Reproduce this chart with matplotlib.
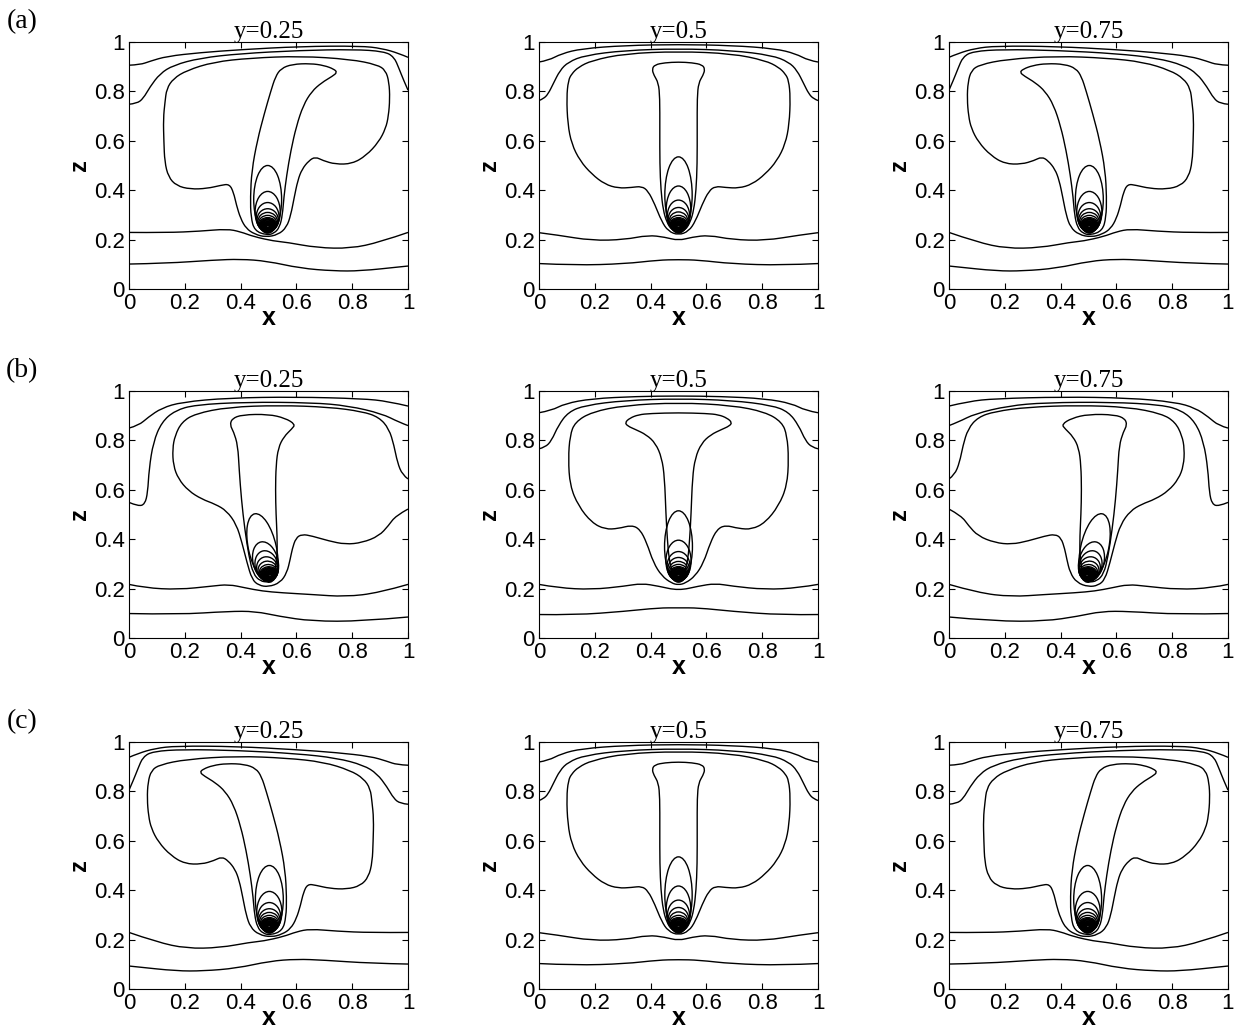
import math

import matplotlib.pyplot as plt
from matplotlib.patches import Ellipse, PathPatch
from matplotlib.path import Path

plt.rcParams["font.family"] = ["Liberation Sans", "DejaVu Sans"]

# contour lines, as (x, z) pairs
# (a)/(c) side slice, plume leaning right (a: y=0.25, c: y=0.75)
a_side_top1 = [(0, .906), (.04, .908), (.075, .922), (.135, .942), (.255, .957), (.40, .969),
               (.614, .982), (.83, .984), (.907, .974), (.967, .954), (1, .938)]
a_side_top2 = [(0, .748), (.028, .751), (.051, .771), (.075, .818), (.111, .872), (.159, .906),
               (.255, .935), (.399, .953), (.614, .966), (.806, .970), (.914, .962), (.95, .94),
               (.968, .892), (.984, .846), (1, .805)]
a_side_cap = [(.135, .811), (.159, .852), (.207, .885), (.303, .919), (.435, .935), (.614, .943),
              (.794, .930), (.89, .908), (.92, .885), (.932, .838), (.935, .771), (.93, .70),
              (.92, .65), (.895, .595), (.85, .54), (.80, .507), (.74, .505), (.695, .52),
              (.668, .535), (.645, .52), (.62, .485), (.605, .44), (.592, .37), (.58, .30),
              (.565, .25), (.535, .22), (.49, .21), (.45, .222), (.42, .245), (.40, .285),
              (.385, .34), (.375, .39), (.36, .425), (.33, .42), (.28, .407), (.22, .404),
              (.17, .418), (.141, .454), (.128, .515), (.125, .596), (.123, .69), (.129, .757),
              (.135, .811)]
a_side_stem = [(.493, .218), (.45, .236), (.437, .29), (.435, .371), (.44, .48), (.46, .602),
               (.485, .71), (.508, .80), (.525, .86), (.545, .893), (.585, .91), (.65, .913),
               (.70, .905), (.735, .89), (.746, .877), (.73, .862), (.69, .835), (.655, .80),
               (.625, .745), (.60, .66), (.58, .56), (.565, .46), (.555, .37), (.55, .30),
               (.54, .25), (.52, .225), (.493, .218)]
a_side_bot1 = [(0, .229), (.135, .228), (.255, .234), (.351, .243), (.399, .232), (.447, .212),
               (.519, .194), (.566, .189), (.674, .167), (.794, .164), (.90, .19), (1, .229)]
a_side_bot2 = [(0, .101), (.135, .104), (.303, .117), (.399, .121), (.495, .113), (.614, .084),
               (.734, .073), (.83, .073), (.974, .09), (1, .093)]
a_side_tips = [.50, .395, .35, .325, .31, .298]
a_side_halfw = [.05, .045, .041, .038, .035, .032]

# outer tip loops: bases; dense core of the plume tip (shared by all slices)
tip_bases = [.226, .229, .232, .234, .235, .237]
core_tops = [.289, .285, .282, .279, .276, .273, .271, .269, .267, .265, .263, .261, .259,
             .257, .255]
core_bases = [.237, .238, .239, .240, .240, .241, .242, .243, .243, .244, .245, .246, .246,
              .247, .248]
core_halfw = [.030, .028, .026, .025, .024, .022, .021, .019, .018, .016, .015, .013, .012,
              .010, .008]

# (a)/(c) middle slice y=0.5 (left halves, symmetric about x=0.5)
a_mid_top1 = [(0, .919), (.033, .925), (.081, .953), (.153, .973), (.308, .986), (.5, .99)]
a_mid_top2 = [(0, .763), (.016, .77), (.033, .79), (.051, .831), (.075, .885), (.105, .919),
              (.165, .946), (.308, .966), (.5, .973)]
a_mid_cap = [(.5, .962), (.308, .953), (.189, .925), (.141, .898), (.117, .871), (.105, .844),
             (.099, .776), (.103, .668), (.117, .587), (.147, .519), (.189, .465), (.236, .424),
             (.284, .408), (.332, .411), (.368, .416), (.391, .397), (.415, .343), (.439, .275),
             (.463, .234), (.5, .218)]
a_mid_stem = [(.5, .919), (.451, .916), (.415, .908), (.405, .89), (.412, .865), (.428, .835),
              (.433, .776), (.433, .65), (.433, .505), (.437, .40), (.445, .32), (.458, .27),
              (.475, .24), (.5, .228)]
a_mid_bot1 = [(0, .228), (.069, .218), (.189, .196), (.308, .2), (.391, .218), (.451, .21),
              (.5, .196)]
a_mid_bot2 = [(0, .103), (.129, .096), (.308, .102), (.427, .117), (.5, .119)]
a_mid_tips = [.535, .417, .36, .33, .312, .298]
a_mid_halfw = [.049, .044, .04, .037, .034, .032]

# (b) side slice y=0.25, cap cut by the right wall
b_side_top1 = [(0, .85), (.034, .86), (.069, .894), (.117, .931), (.189, .955), (.357, .972),
               (.596, .976), (.836, .969), (.93, .958), (1, .939)]
b_side_top2 = [(0, .549), (.034, .533), (.057, .542), (.067, .589), (.072, .684), (.087, .793),
               (.117, .874), (.165, .921), (.237, .944), (.417, .955), (.656, .953), (.787, .94),
               (.907, .908), (.967, .874), (1, .86)]
b_side_cap = [(1, .522), (.956, .495), (.93, .455), (.896, .413), (.836, .386), (.776, .379),
              (.716, .393), (.656, .413), (.62, .42), (.598, .405), (.585, .36), (.578, .32),
              (.566, .264), (.542, .224), (.5, .207), (.465, .213), (.441, .237), (.423, .305),
              (.405, .386), (.385, .46), (.35, .515), (.309, .542), (.261, .562), (.213, .596),
              (.177, .644), (.159, .698), (.156, .766), (.165, .82), (.189, .874), (.237, .908),
              (.357, .935), (.537, .942), (.716, .935), (.836, .917), (.896, .894), (.932, .847),
              (.95, .779), (.962, .711), (.98, .66), (1, .644)]
b_side_stem = [(.369, .888), (.405, .904), (.5, .906), (.56, .89), (.596, .865), (.584, .847),
               (.555, .815), (.535, .77), (.527, .70), (.525, .60), (.527, .50), (.531, .413),
               (.531, .33), (.52, .255), (.5, .226), (.47, .23), (.445, .26), (.43, .33),
               (.415, .44), (.403, .56), (.395, .68), (.39, .78), (.375, .835), (.362, .862),
               (.369, .888)]
b_side_bot1 = [(0, .217), (.057, .203), (.177, .196), (.297, .21), (.357, .217), (.417, .203),
               (.477, .19), (.548, .183), (.656, .176), (.776, .167), (.896, .183), (1, .217)]
b_side_bot2 = [(0, .099), (.177, .095), (.357, .108), (.453, .108), (.537, .088), (.656, .068),
               (.836, .068), (1, .085)]
b_side_tips = [.508, .392, .355, .33, .312, .298]
b_side_halfw = [.05, .045, .041, .038, .035, .032]

# (b) middle slice y=0.5 (left halves)
b_mid_top1 = [(0, .912), (.045, .921), (.093, .949), (.189, .969), (.35, .978), (.5, .98)]
b_mid_top2 = [(0, .766), (.022, .772), (.045, .799), (.069, .86), (.105, .915), (.165, .942),
              (.308, .962), (.5, .969)]
b_mid_cap = [(.5, .953), (.308, .942), (.189, .915), (.129, .874), (.111, .82), (.105, .725),
             (.111, .617), (.141, .535), (.189, .467), (.237, .44), (.284, .443), (.332, .457),
             (.362, .44), (.386, .386), (.41, .305), (.44, .251), (.475, .222), (.5, .215)]
b_mid_stem = [(.5, .912), (.40, .909), (.356, .904), (.325, .89), (.308, .872), (.318, .858),
              (.344, .845), (.385, .823), (.418, .788), (.44, .73), (.45, .65), (.455, .50),
              (.46, .40), (.466, .32), (.478, .265), (.5, .235)]
b_mid_bot1 = [(0, .217), (.069, .203), (.189, .196), (.308, .21), (.368, .221), (.428, .21),
              (.5, .192)]
b_mid_bot2 = [(0, .095), (.129, .093), (.308, .108), (.428, .122), (.5, .122)]
b_mid_tips = [.515, .396, .35, .326, .31, .298]
b_mid_halfw = [.05, .045, .041, .038, .035, .032]

tick_vals = [0, 0.2, 0.4, 0.6, 0.8, 1]
tick_text = ["0", "0.2", "0.4", "0.6", "0.8", "1"]
row_labels = ["(a)", "(b)", "(c)"]
col_titles = ["y=0.25", "y=0.5", "y=0.75"]


def whole(half):
    # middle slices are symmetric about x = 0.5
    return half + [(1 - x, z) for x, z in reversed(half[:-1])]


def smooth_path(pts):
    # quadratic bezier through the read points (points act as control points)
    closed = pts[0] == pts[-1]
    if closed:
        pts = pts[:-1]
        n = len(pts)
        mids = [((pts[i][0] + pts[(i + 1) % n][0]) / 2, (pts[i][1] + pts[(i + 1) % n][1]) / 2)
                for i in range(n)]
        verts = [mids[-1]]
        codes = [Path.MOVETO]
        for i in range(n):
            verts += [pts[i], mids[i]]
            codes += [Path.CURVE3, Path.CURVE3]
        return Path(verts, codes)
    verts = [pts[0]]
    codes = [Path.MOVETO]
    for i in range(1, len(pts) - 1):
        mid = ((pts[i][0] + pts[i + 1][0]) / 2, (pts[i][1] + pts[i + 1][1]) / 2)
        if i == len(pts) - 2:
            mid = pts[-1]
        verts += [pts[i], mid]
        codes += [Path.CURVE3, Path.CURVE3]
    if len(pts) == 2:
        verts.append(pts[1])
        codes.append(Path.LINETO)
    return Path(verts, codes)


side_a = dict(lines=[a_side_top1, a_side_top2, a_side_cap, a_side_stem, a_side_bot1, a_side_bot2],
              tips=a_side_tips, halfw=a_side_halfw, x0=0.497, tilt=0)
mid_a = dict(lines=[whole(c) for c in [a_mid_top1, a_mid_top2, a_mid_cap, a_mid_stem,
                                       a_mid_bot1, a_mid_bot2]],
             tips=a_mid_tips, halfw=a_mid_halfw, x0=0.5, tilt=0)
side_b = dict(lines=[b_side_top1, b_side_top2, b_side_cap, b_side_stem, b_side_bot1, b_side_bot2],
              tips=b_side_tips, halfw=b_side_halfw, x0=0.505, tilt=11)
mid_b = dict(lines=[whole(c) for c in [b_mid_top1, b_mid_top2, b_mid_cap, b_mid_stem,
                                       b_mid_bot1, b_mid_bot2]],
             tips=b_mid_tips, halfw=b_mid_halfw, x0=0.5, tilt=0)

# (slice data, mirrored in x?) for each panel
layout = [
    [(side_a, False), (mid_a, False), (side_a, True)],
    [(side_b, False), (mid_b, False), (side_b, True)],
    [(side_a, True), (mid_a, False), (side_a, False)],
]

W, H = 1235, 1030
col_left = [129, 539, 949]
row_top = [42, 391, 742]
ax_w, ax_h = 279, 247

fig = plt.figure(figsize=(W / 100, H / 100), dpi=100)

for r in range(3):
    fig.text(22 / W, 1 - (row_top[r] - 20) / H, row_labels[r], family="Liberation Serif",
             fontsize=20, ha="center", va="center")
    for c in range(3):
        data, flip = layout[r][c]
        ax = fig.add_axes([col_left[c] / W, 1 - (row_top[r] + ax_h) / H, ax_w / W, ax_h / H])
        for line in data["lines"]:
            pts = [((1 - x) if flip else x, z) for x, z in line]
            ax.add_patch(PathPatch(smooth_path(pts), fill=False, edgecolor="black", lw=1.0))
        tilt = -data["tilt"] if flip else data["tilt"]
        x0 = 1 - data["x0"] if flip else data["x0"]
        loops = list(zip(data["tips"], tip_bases, data["halfw"]))
        loops += list(zip(core_tops, core_bases, core_halfw))
        for top, base, hw in loops:
            h = top - base
            cx = x0 - math.sin(math.radians(tilt)) * h / 2
            cz = base + math.cos(math.radians(tilt)) * h / 2
            ax.add_patch(Ellipse((cx, cz), 2 * hw, h, angle=tilt, fill=False,
                                 edgecolor="black", lw=1.0))
        ax.set_xlim(0, 1)
        ax.set_ylim(0, 1)
        ax.set_xticks(tick_vals)
        ax.set_xticklabels(tick_text)
        ax.set_yticks(tick_vals)
        ax.set_yticklabels(tick_text)
        ax.tick_params(direction="in", length=4, width=0.8, top=True, right=True,
                       labelsize=16, pad=3)
        for s in ax.spines.values():
            s.set_linewidth(0.8)
        ax.set_title(col_titles[c], family="Liberation Serif", fontsize=18, pad=3)
        ax.set_xlabel("x", fontsize=18, fontweight="bold", labelpad=-6)
        ax.set_ylabel("z", fontsize=17, fontweight="bold", labelpad=2)

fig.savefig("out.png", dpi=100)
